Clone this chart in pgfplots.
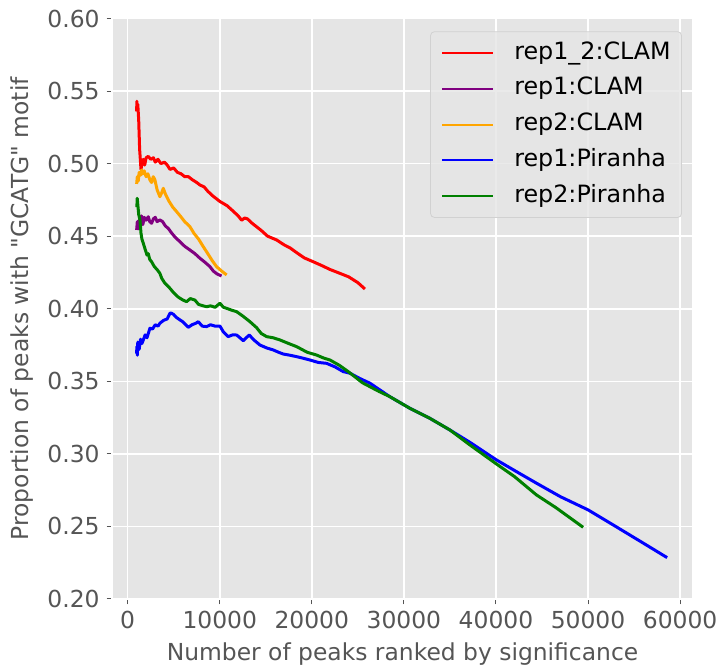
\documentclass[border=0pt]{standalone}
\usepackage{fontspec}
\setmainfont{DejaVu Sans}[Ligatures=TeXOff]
\usepackage{pgfplots}
\pgfplotsset{compat=1.18}
\definecolor{bggray}{HTML}{E5E5E5}
\definecolor{txtgray}{HTML}{555555}
\definecolor{legedge}{HTML}{D1D1D1}
\definecolor{mplred}{HTML}{FF0000}
\definecolor{mplpurple}{HTML}{800080}
\definecolor{mplorange}{HTML}{FFA500}
\definecolor{mplblue}{HTML}{0000FF}
\definecolor{mplgreen}{HTML}{008000}
\begin{document}
\begin{tikzpicture}
\useasboundingbox (-56pt,-35pt) rectangle (306pt,299.5pt);
\begin{axis}[
  at={(0,0)}, anchor=south west,
  scale only axis,
  width=290.5pt, height=290.25pt,
  xmin=-1700, xmax=61400,
  ymin=0.20, ymax=0.60,
  xtick={0,10000,...,60000},
  ytick={0.20,0.25,...,0.61},
  scaled ticks=false,
  axis background/.style={fill=bggray},
  axis line style={white, line width=0.8pt},
  grid=major,
  major grid style={white, line width=0.8pt},
  tick align=outside,
  major tick length=2.7pt,
  tick style={txtgray, line width=0.5pt},
  xtick pos=bottom, ytick pos=left,
  /pgf/number format/assume math mode=true,
  ticklabel style={font=\fontsize{11.7}{14}\selectfont, text=txtgray},
  xticklabel style={/pgf/number format/1000 sep={}},
  yticklabel style={/pgf/number format/.cd, fixed, fixed zerofill, precision=2},
  xlabel={Number of peaks ranked by significance},
  ylabel={Proportion of peaks with "GCATG" motif},
  label style={font=\fontsize{11.7}{14}\selectfont, text=txtgray},
  legend cell align=left,
  legend style={at={(0.981,0.978)}, anchor=north east, fill=bggray, fill opacity=0.8,
    text opacity=1, draw=legedge, draw opacity=1,
    rounded corners=2pt, font=\fontsize{11.9}{14}\selectfont, text=black,
    inner xsep=5.4pt, inner ysep=5pt, row sep=6.6pt,
    nodes={inner sep=0pt, text height=8.7pt, text depth=2.6pt},
    /tikz/every odd column/.append style={column sep=10pt}},
  legend image code/.code={\draw[#1, line width=1pt] (0pt,0pt) -- (25.5pt,0pt);},
  every axis plot/.append style={line width=1.5pt, line join=round},
]
\addplot[mplred] coordinates {
(977,0.536)(1000,0.543)(1050,0.538)(1100,0.541)(1200,0.530)(1300,0.510)(1450,0.496)(1550,0.500)(1700,0.503)(1850,0.499)(2000,0.504)(2240,0.505)(2500,0.503)(2800,0.504)(3000,0.501)(3300,0.503)(3600,0.500)(4000,0.501)(4300,0.499)(4600,0.496)(5000,0.497)(5400,0.494)(5800,0.493)(6200,0.491)(6600,0.491)(7000,0.489)(7500,0.487)(7850,0.4853)(8300,0.484)(8700,0.481)(9200,0.478)(10000,0.474)(10800,0.471)(11500,0.467)(12000,0.464)(12380,0.461)(12700,0.4625)(13000,0.462)(13500,0.459)(14500,0.454)(15200,0.450)(16180,0.4474)(17000,0.444)(17620,0.442)(18500,0.438)(19200,0.435)(20150,0.4324)(21000,0.430)(22000,0.427)(23050,0.4244)(24000,0.422)(25000,0.418)(25770,0.4136)
};
\addlegendentry{rep1\_2:CLAM}
\addplot[mplpurple] coordinates {
(977,0.4543)(1050,0.460)(1150,0.455)(1250,0.461)(1340,0.460)(1500,0.464)(1650,0.458)(1800,0.463)(2000,0.461)(2240,0.4634)(2400,0.460)(2600,0.4589)(2800,0.462)(3000,0.463)(3200,0.460)(3500,0.4612)(3800,0.460)(4100,0.457)(4410,0.4554)(4800,0.452)(5200,0.449)(5680,0.4462)(6200,0.443)(6760,0.4405)(7300,0.438)(7850,0.4348)(8400,0.432)(8940,0.429)(9300,0.426)(9700,0.424)(10200,0.4226)
};
\addlegendentry{rep1:CLAM}
\addplot[mplorange] coordinates {
(977,0.486)(1050,0.491)(1150,0.488)(1250,0.494)(1400,0.492)(1520,0.4956)(1650,0.493)(1800,0.495)(2000,0.491)(2200,0.493)(2420,0.4887)(2600,0.487)(2780,0.491)(2950,0.489)(3200,0.482)(3500,0.4772)(3700,0.480)(3870,0.483)(4100,0.479)(4500,0.474)(4900,0.470)(5320,0.4669)(5700,0.464)(6200,0.460)(6760,0.4566)(7200,0.452)(7700,0.448)(8210,0.4428)(8700,0.438)(9200,0.433)(9660,0.429)(10200,0.426)(10750,0.4233)
};
\addlegendentry{rep2:CLAM}
\addplot[mplblue] coordinates {
(977,0.3693)(1000,0.374)(1050,0.368)(1100,0.377)(1150,0.3762)(1250,0.372)(1400,0.379)(1550,0.376)(1700,0.3785)(1900,0.382)(2100,0.380)(2420,0.3866)(2700,0.386)(3000,0.389)(3300,0.388)(3500,0.390)(3900,0.392)(4300,0.393)(4600,0.397)(4770,0.3969)(5000,0.396)(5300,0.394)(5680,0.3923)(6000,0.391)(6300,0.389)(6580,0.3872)(7000,0.389)(7400,0.390)(7670,0.3911)(8100,0.388)(8580,0.3877)(9000,0.389)(9500,0.388)(10020,0.3881)(10400,0.384)(10920,0.3808)(11400,0.382)(11830,0.3819)(12200,0.380)(12550,0.378)(13200,0.3819)(13800,0.378)(14370,0.375)(15100,0.373)(15810,0.3716)(16400,0.370)(16900,0.3688)(17600,0.368)(18350,0.367)(19000,0.366)(19790,0.3647)(20700,0.363)(21600,0.3624)(22500,0.360)(23410,0.3567)(24140,0.3556)(25200,0.352)(26310,0.3487)(28480,0.3394)(30650,0.3314)(32820,0.3245)(34990,0.3165)(37160,0.3080)(40060,0.2958)(42300,0.2875)(44400,0.2798)(47000,0.2705)(50010,0.2614)(53000,0.250)(56000,0.2385)(58590,0.2285)
};
\addlegendentry{rep1:Piranha}
\addplot[mplgreen] coordinates {
(1000,0.470)(1040,0.4761)(1100,0.472)(1200,0.465)(1340,0.461)(1450,0.452)(1550,0.448)(1700,0.4451)(1900,0.441)(2100,0.437)(2240,0.438)(2400,0.434)(2600,0.4324)(2900,0.429)(3200,0.427)(3500,0.4244)(3700,0.421)(4000,0.418)(4300,0.416)(4590,0.4141)(5000,0.411)(5500,0.408)(6000,0.406)(6400,0.4049)(6800,0.407)(7300,0.406)(7700,0.403)(8200,0.402)(8580,0.4014)(9000,0.402)(9500,0.401)(10020,0.4038)(10400,0.401)(10750,0.4003)(11300,0.399)(11830,0.398)(12500,0.395)(13280,0.3911)(14000,0.387)(14500,0.383)(15090,0.3808)(15800,0.380)(16540,0.3785)(17500,0.376)(18350,0.3739)(19500,0.370)(20520,0.3681)(21300,0.366)(21970,0.3647)(23000,0.361)(23950,0.3567)(24700,0.353)(25500,0.349)(26310,0.3463)(27300,0.343)(28480,0.3394)(30650,0.3314)(32820,0.3245)(34990,0.3165)(37160,0.3062)(40060,0.2930)(42000,0.2844)(44400,0.2717)(46500,0.263)(49470,0.2494)
};
\addlegendentry{rep2:Piranha}
\end{axis}
\end{tikzpicture}
\end{document}
